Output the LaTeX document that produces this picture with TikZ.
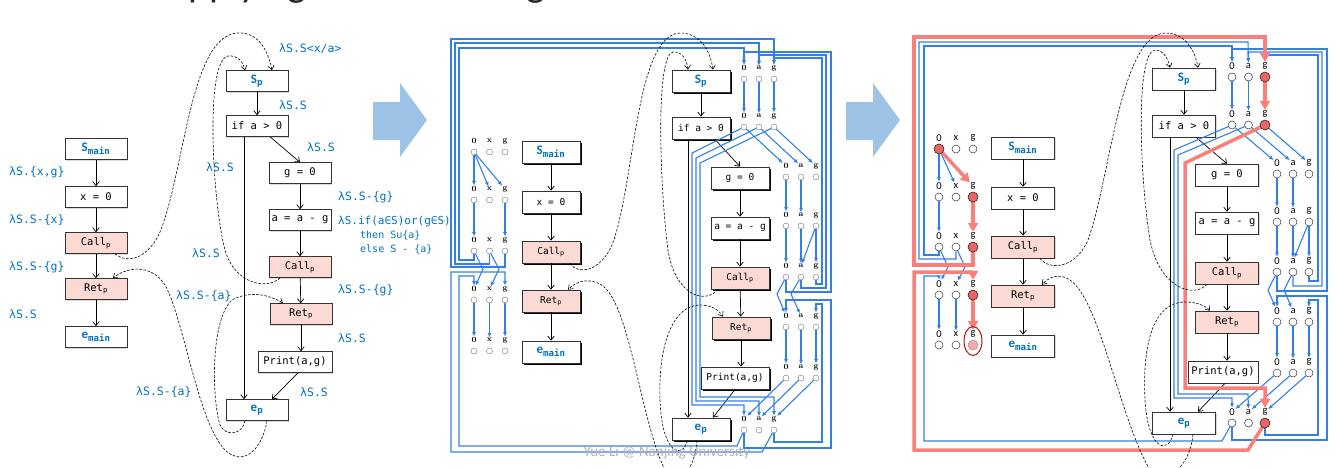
\documentclass[tikz,border=0pt]{standalone}
\usepackage{fontspec}
\setsansfont{Carlito}
\newfontfamily\cons{DejaVu Sans Mono}
\usetikzlibrary{arrows.meta,shadows,shapes.geometric}

\definecolor{lamblue}{RGB}{0,112,192}
\definecolor{callpink}{RGB}{252,218,212}
\definecolor{wireblue}{RGB}{50,128,230}
\definecolor{pathred}{RGB}{248,128,120}
\definecolor{hotred}{RGB}{238,100,100}
\definecolor{ringred}{RGB}{170,20,20}
\definecolor{arrowblue}{RGB}{157,195,230}

% entry / exit node text
\newcommand{\ent}[2]{{\color{lamblue}\sffamily\bfseries\fontsize{13}{13}\selectfont #1\textsubscript{\cons #2}}}
% one row of the exploded supergraph: name, x of 0, y, dx, variable, dot style, label style
\newcommand{\factrow}[7]{%
  \foreach \v [count=\i from 0] in {0,#5,g}{%
    \node[#6] (#1-\v) at ({#2+\i*#4},#3) {};
    \node[#7] (#1-\v-t) at ({#2+\i*#4},#3-11) {\v};
  }}

\tikzset{
  cfgbox/.style={draw=black!80, fill=white, inner sep=0pt, line width=.6pt},
  lbox/.style={cfgbox, minimum width=62pt, minimum height=21pt, font=\cons\fontsize{10.5}{10.5}\selectfont, drop shadow={shadow xshift=1.2pt, shadow yshift=-1.2pt, opacity=.3}},
  mbox/.style={cfgbox, line width=.8pt, minimum width=58pt, minimum height=22pt, font=\cons\fontsize{9.5}{9.5}\selectfont, drop shadow={shadow xshift=2.2pt, shadow yshift=-2.2pt, opacity=1, fill=black}},
  rbox/.style={cfgbox, minimum width=63pt, minimum height=22pt, font=\cons\fontsize{10.5}{10.5}\selectfont, drop shadow={shadow xshift=1.2pt, shadow yshift=-1.2pt, opacity=.3}},
  callp/.style={fill=callpink},
  flow/.style={line width=.7pt, -{Straight Barb[length=4pt,width=6.5pt]}},
  cfgdash/.style={line width=.6pt, dash pattern=on 2.5pt off 1.6pt, -{Straight Barb[length=4pt,width=6pt]}},
  lam/.style={text=lamblue, anchor=west, inner sep=0pt, font=\cons\fontsize{11.5}{12}\selectfont},
  mdot/.style={circle, draw=black!55, fill=white, line width=.4pt, minimum size=6pt, inner sep=0pt},
  rdot/.style={circle, draw=black!80, fill=white, line width=.5pt, minimum size=8pt, inner sep=0pt},
  mfact/.style={inner sep=.5pt, font=\bfseries\fontsize{8}{8}\selectfont},
  rfact/.style={inner sep=.5pt, font=\sffamily\fontsize{10.5}{10.5}\selectfont},
  wire/.style={draw=wireblue, line width=1.1pt, -{Latex[length=4.5pt,width=4pt]}},
  hotpath/.style={draw=pathred, line width=3.5pt, -{Triangle[length=9pt,width=10pt]}},
  hot/.style={circle, draw=black!85, fill=hotred, line width=.6pt, minimum size=10pt, inner sep=0pt},
}

\begin{document}
\begin{tikzpicture}[x=1pt,y=-1pt]
\useasboundingbox (0,0) rectangle (1336,467);

% slide title, mostly above the page
\node[anchor=base west, inner sep=0pt, text=black!85, font=\sffamily\fontsize{40}{40}\selectfont] (title) at (165,-4) {Applying Tabulation Algorithm};

%% ---------- left: supergraph with flow functions ----------
\node[lbox] (Lsm) at (96,149) {\ent{S}{main}};
\node[lbox] (Lx) at (96,197) {x = 0};
\node[lbox, callp] (Lcall) at (96,243) {Call\textsubscript{p}};
\node[lbox, callp] (Lret) at (96,289) {Ret\textsubscript{p}};
\node[lbox] (Lem) at (96,337) {\ent{e}{main}};

\node[lbox] (Lsp) at (257,81) {\ent{S}{p}};
\node[lbox] (Lif) at (257,126) {if a > 0};
\node[lbox] (Lg) at (300,173) {g = 0};
\node[lbox] (La) at (300,220) {a = a - g};
\node[lbox, callp] (Lcallp) at (300,267) {Call\textsubscript{p}};
\node[lbox, callp] (Lretp) at (301,314) {Ret\textsubscript{p}};
\node[lbox, minimum width=74pt] (Lprint) at (295,362) {Print(a,g)};
\node[lbox] (Lep) at (257,410) {\ent{e}{p}};

\draw[flow] (Lsm) -- (Lx);
\draw[flow] (Lx) -- (Lcall);
\draw[flow] (Lcall) -- (Lret);
\draw[flow] (Lret) -- (Lem);
\draw[flow] (Lsp) -- (Lif);
\draw[flow] ([xshift=13pt]Lif.south) -- (Lg.north);
\draw[flow] (Lg) -- (La);
\draw[flow] (La) -- (Lcallp);
\draw[flow] (Lcallp) -- (Lretp);
\draw[flow] (Lretp) -- ([xshift=6pt]Lprint.north);
\draw[flow] ([xshift=3pt]Lprint.south) -- ([xshift=15pt]Lep.north);
\draw[flow] ([xshift=-13pt]Lif.south) -- ([xshift=-13pt]Lep.north);

\draw[cfgdash] ([xshift=19pt]Lcall.south) .. controls (130,266) and (150,255) .. (160,232)
  .. controls (185,170) and (190,35) .. (238,33) .. controls (258,32) and (268,50) .. ([xshift=15pt]Lsp.north);
\draw[cfgdash] ([xshift=-20pt]Lcallp.south) .. controls (268,290) and (235,285) .. (225,250)
  .. controls (212,200) and (205,60) .. (228,56) .. controls (238,55) and (243,62) .. ([xshift=-12pt]Lsp.north);
\draw[cfgdash] ([xshift=10pt]Lep.south) .. controls (262,450) and (245,462) .. (232,455)
  .. controls (200,440) and (185,320) .. (165,285) .. controls (150,262) and (125,268) .. ([xshift=17pt]Lret.north);
\draw[cfgdash] ([xshift=-12pt]Lep.south) .. controls (242,436) and (225,436) .. (220,425)
  .. controls (212,400) and (210,320) .. (232,300) .. controls (250,290) and (270,295) .. ([xshift=-18pt]Lretp.north);

\node[lam] (lm1) at (9,172) {λS.\{x,g\}};
\node[lam] (lm2) at (9,220) {λS.S-\{x\}};
\node[lam] (lm3) at (9,267) {λS.S-\{g\}};
\node[lam] (lm4) at (9,314) {λS.S};
\node[lam] (lp1) at (279,49) {λS.S<x/a>};
\node[lam] (lp2) at (279,105) {λS.S};
\node[lam] (lp3) at (307,147) {λS.S};
\node[lam] (lp4) at (206,167) {λS.S};
\node[lam] (lp5) at (338,197) {λS.S-\{g\}};
\node[lam, font=\cons\fontsize{11}{11}\selectfont] (lp6) at (338,221) {λS.if(a∈S)or(g∈S)};
\node[lam, font=\cons\fontsize{10}{10}\selectfont] (lp7) at (360,236) {then S∪\{a\}};
\node[lam, font=\cons\fontsize{10}{10}\selectfont] (lp8) at (360,249) {else S - \{a\}};
\node[lam] (lp9) at (192,253) {λS.S};
\node[lam] (lp10) at (338,290) {λS.S-\{g\}};
\node[lam] (lp11) at (176,296) {λS.S-\{a\}};
\node[lam] (lp12) at (338,338) {λS.S};
\node[lam] (lp13) at (136,392) {λS.S-\{a\}};
\node[lam] (lp14) at (300,392) {λS.S};

%% big arrows
\fill[arrowblue] (373,102) -- (400,102) -- (400,83) -- (427,120) -- (400,157) -- (400,140) -- (373,140) -- cycle;
\fill[arrowblue] (846,102) -- (873,102) -- (873,83) -- (900,120) -- (873,157) -- (873,140) -- (846,140) -- cycle;

%% ---------- middle: exploded supergraph ----------
\node[mbox] (Msm) at (551,152) {\ent{S}{main}};
\node[mbox] (Mx) at (551,202) {x = 0};
\node[mbox, callp] (Mcall) at (551,252) {Call\textsubscript{p}};
\node[mbox, callp] (Mret) at (551,301) {Ret\textsubscript{p}};
\node[mbox] (Mem) at (551,352) {\ent{e}{main}};

\node[mbox] (Msp) at (701,81) {\ent{S}{p}};
\node[mbox] (Mif) at (701,128) {if a > 0};
\node[mbox] (Mg) at (740,178) {g = 0};
\node[mbox] (Ma) at (740,228) {a = a - g};
\node[mbox, callp] (Mcallp) at (740,278) {Call\textsubscript{p}};
\node[mbox, callp] (Mretp) at (741,328) {Ret\textsubscript{p}};
\node[mbox, minimum width=68pt] (Mprint) at (735,378) {Print(a,g)};
\node[mbox] (Mep) at (701,429) {\ent{e}{p}};

\draw[flow] (Msm) -- (Mx);
\draw[flow] (Mx) -- (Mcall);
\draw[flow] (Mcall) -- (Mret);
\draw[flow] (Mret) -- (Mem);
\draw[flow] (Msp) -- (Mif);
\draw[flow] ([xshift=14pt]Mif.south) -- (Mg.north);
\draw[flow] (Mg) -- (Ma);
\draw[flow] (Ma) -- (Mcallp);
\draw[flow] (Mcallp) -- (Mretp);
\draw[flow] (Mretp) -- ([xshift=6pt]Mprint.north);
\draw[flow] (Mprint.south) -- ([xshift=12pt]Mep.north);
\draw[flow] ([xshift=-13pt]Mif.south) -- ([xshift=-13pt]Mep.north);

\factrow{Mm1}{474}{152}{15.5}{x}{mdot}{mfact}
\factrow{Mm2}{474}{200}{15.5}{x}{mdot}{mfact}
\factrow{Mm3}{474}{251}{15.5}{x}{mdot}{mfact}
\factrow{Mm4}{474}{300}{15.5}{x}{mdot}{mfact}
\factrow{Mm5}{474}{351}{15.5}{x}{mdot}{mfact}
\factrow{Mp1}{744}{79}{15}{a}{mdot}{mfact}
\factrow{Mp2}{744}{127}{15}{a}{mdot}{mfact}
\factrow{Mp3}{786}{177}{15}{a}{mdot}{mfact}
\factrow{Mp4}{786}{226}{15}{a}{mdot}{mfact}
\factrow{Mp5}{786}{277}{15}{a}{mdot}{mfact}
\factrow{Mp6}{786}{327}{15}{a}{mdot}{mfact}
\factrow{Mp7}{786}{378}{15}{a}{mdot}{mfact}
\factrow{Mp8}{744}{430}{15}{a}{mdot}{mfact}

% main
\draw[wire] (Mm1-0) -- (Mm2-0-t);
\draw[wire] (Mm1-0) -- (Mm2-x-t);
\draw[wire] (Mm1-0) -- (Mm2-g-t);
\draw[wire] (Mm2-0) -- (Mm3-0-t);
\draw[wire] (Mm2-g) -- (Mm3-g-t);
\draw[wire] (Mm3-0) -- (483,269) -- (Mm4-0-t);
\draw[wire] (Mm3-x) -- (499,269) -- (Mm4-x-t);
\draw[wire] (Mm4-0) -- (Mm5-0-t);
\draw[wire] (Mm4-x) -- (Mm5-x-t);
\draw[wire] (Mm4-g) -- (Mm5-g-t);
% call and return edges
\draw[wire] (Mm3-0) |- (459,260) |- (744,48) -- (Mp1-0-t);
\draw[wire] (Mm3-x) |- (455,264) |- (759,43) -- (Mp1-a-t);
\draw[wire] (Mm3-g) |- (451,267) |- (774,39) -- (Mp1-g-t);
\draw[wire] (Mp8-0) -- (737,446) -| (459,276) -| (Mm4-0-t);
\draw[wire] (Mp8-g) -- (762,452) -| (451,272) -| (Mm4-g-t);
% p
\draw[wire] (Mp1-0) -- (Mp2-0-t);
\draw[wire] (Mp1-a) -- (Mp2-a-t);
\draw[wire] (Mp1-g) -- (Mp2-g-t);
\draw[wire] (Mp2-0) -- (Mp3-0-t);
\draw[wire] (Mp2-a) -- (Mp3-a-t);
\draw[wire] (Mp2-g) -- (Mp3-g-t);
\draw[wire] (Mp2-0) -- (692,153) |- (744,405) -- (Mp8-0-t);
\draw[wire] (Mp2-a) -- (696,158) |- (759,401) -- (Mp8-a-t);
\draw[wire] (Mp2-g) -- (700,163) |- (774,397) -- (Mp8-g-t);
\draw[wire] (Mp3-0) -- (Mp4-0-t);
\draw[wire] (Mp3-a) -- (Mp4-a-t);
\draw[wire] (Mp4-0) -- (Mp5-0-t);
\draw[wire] (Mp4-a) -- (Mp5-a-t);
\draw[wire] (Mp4-g) -- (Mp5-a-t);
\draw[wire] (Mp4-g) -- (Mp5-g-t);
\draw[wire] (Mp5-0) -- (777,294) -- (Mp6-0-t);
\draw[wire] (Mp5-a) -- (791,294) -- (Mp6-a-t);
\draw[wire] (Mp5-0) |- (831,292) |- (744,52) -- (Mp1-0-t);
\draw[wire] (Mp5-a) |- (826,288) |- (759,55) -- (Mp1-a-t);
\draw[wire] (Mp5-g) |- (822,284) |- (774,58) -- (Mp1-g-t);
\draw[wire] (Mp8-0) |- (831,448) |- (786,300) -- (Mp6-0-t);
\draw[wire] (Mp8-g) |- (822,442) |- (816,304) -- (Mp6-g-t);
\draw[wire] (Mp6-0) -- (Mp7-0-t);
\draw[wire] (Mp6-a) -- (Mp7-a-t);
\draw[wire] (Mp6-g) -- (Mp7-g-t);
\draw[wire] (Mp7-0) -- (Mp8-0-t);
\draw[wire] (Mp7-a) -- (Mp8-a-t);
\draw[wire] (Mp7-g) -- (Mp8-g-t);

\draw[cfgdash] ([xshift=19pt]Mcall.south) .. controls (578,275) and (600,272) .. (612,245)
  .. controls (635,185) and (635,35) .. (680,33) .. controls (700,33) and (710,50) .. ([xshift=12pt]Msp.north);
\draw[cfgdash] ([xshift=-22pt]Mcallp.south) .. controls (705,305) and (675,295) .. (668,250)
  .. controls (660,190) and (655,55) .. (673,52) .. controls (682,51) and (687,60) .. ([xshift=-13pt]Msp.north);
\draw[cfgdash] ([xshift=-4pt]Mep.south) .. controls (695,470) and (680,485) .. (665,470)
  .. controls (640,420) and (630,300) .. (600,284) .. controls (585,277) and (575,283) .. ([xshift=17pt]Mret.north);
\draw[cfgdash] ([xshift=-14pt]Mep.south) .. controls (683,460) and (662,455) .. (660,400)
  .. controls (658,340) and (675,305) .. (700,305) .. controls (710,305) and (718,309) .. ([xshift=-18pt]Mretp.north);

\node[text=black!30, font=\sffamily\fontsize{15}{15}\selectfont] (wm) at (667,453) {Yue Li @ Nanjing University};

%% ---------- right: a path found by tabulation ----------
\node[rbox] (Rsm) at (1023,148) {\ent{S}{main}};
\node[rbox] (Rx) at (1023,198) {x = 0};
\node[rbox, callp] (Rcall) at (1023,247) {Call\textsubscript{p}};
\node[rbox, callp] (Rret) at (1023,296) {Ret\textsubscript{p}};
\node[rbox] (Rem) at (1023,346) {\ent{e}{main}};

\node[rbox] (Rsp) at (1184,79) {\ent{S}{p}};
\node[rbox] (Rif) at (1184,126) {if a > 0};
\node[rbox] (Rg) at (1227,175) {g = 0};
\node[rbox] (Ra) at (1227,223) {a = a - g};
\node[rbox, callp] (Rcallp) at (1227,273) {Call\textsubscript{p}};
\node[rbox, callp] (Rretp) at (1227,322) {Ret\textsubscript{p}};
\node[rbox, minimum width=70pt] (Rprint) at (1223,372) {Print(a,g)};
\node[rbox] (Rep) at (1184,423) {\ent{e}{p}};

\draw[flow] (Rsm) -- (Rx);
\draw[flow] (Rx) -- (Rcall);
\draw[flow] (Rcall) -- (Rret);
\draw[flow] (Rret) -- (Rem);
\draw[flow] (Rsp) -- (Rif);
\draw[flow] ([xshift=12pt]Rif.south) -- (Rg.north);
\draw[flow] (Rg) -- (Ra);
\draw[flow] (Ra) -- (Rcallp);
\draw[flow] (Rcallp) -- (Rretp);
\draw[flow] (Rretp) -- ([xshift=4pt]Rprint.north);
\draw[flow] ([xshift=2pt]Rprint.south) -- ([xshift=14pt]Rep.north);
\draw[flow] ([xshift=-14pt]Rif.south) -- ([xshift=-14pt]Rep.north);

\factrow{Rm1}{939}{149}{17}{x}{rdot}{rfact}
\factrow{Rm2}{939}{197}{17}{x}{rdot}{rfact}
\factrow{Rm3}{939}{247}{17}{x}{rdot}{rfact}
\factrow{Rm4}{939}{295}{17}{x}{rdot}{rfact}
\factrow{Rm5}{939}{345}{17}{x}{rdot}{rfact}
\factrow{Rp1}{1232}{77}{16.5}{a}{rdot}{rfact}
\factrow{Rp2}{1232}{125}{16.5}{a}{rdot}{rfact}
\factrow{Rp3}{1277}{174}{16}{a}{rdot}{rfact}
\factrow{Rp4}{1277}{222}{16}{a}{rdot}{rfact}
\factrow{Rp5}{1277}{272}{16}{a}{rdot}{rfact}
\factrow{Rp6}{1277}{322}{16}{a}{rdot}{rfact}
\factrow{Rp7}{1277}{373}{16}{a}{rdot}{rfact}
\factrow{Rp8}{1232}{423}{16.5}{a}{rdot}{rfact}

% main
\draw[wire] (Rm1-0) -- (Rm2-0-t);
\draw[wire] (Rm1-0) -- (Rm2-x-t);
\draw[wire] (Rm2-0) -- (Rm3-0-t);
\draw[wire] (Rm3-0) -- (948,267) -- (Rm4-0-t);
\draw[wire] (Rm3-x) -- (965,267) -- (Rm4-x-t);
\draw[wire] (Rm4-0) -- (Rm5-0-t);
\draw[wire] (Rm4-x) -- (Rm5-x-t);
\draw[wire] (Rm3-0) |- (924,255) |- (1232,46) -- (Rp1-0-t);
\draw[wire] (Rm3-x) |- (919,259) |- (1248,42) -- (Rp1-a-t);
\draw[wire] (Rp8-0) -- (1222,441) -| (924,276) -| (Rm4-0-t);
% p
\draw[wire] (Rp1-0) -- (Rp2-0-t);
\draw[wire] (Rp1-a) -- (Rp2-a-t);
\draw[wire] (Rp2-0) -- (Rp3-0-t);
\draw[wire] (Rp2-a) -- (Rp3-a-t);
\draw[wire] (Rp2-g) -- (Rp3-g-t);
\draw[wire] (Rp2-0) -- (1174,150) |- (1232,398) -- (Rp8-0-t);
\draw[wire] (Rp2-a) -- (1178,155) |- (1248,394) -- (Rp8-a-t);
\draw[wire] (Rp3-0) -- (Rp4-0-t);
\draw[wire] (Rp3-a) -- (Rp4-a-t);
\draw[wire] (Rp4-0) -- (Rp5-0-t);
\draw[wire] (Rp4-a) -- (Rp5-a-t);
\draw[wire] (Rp4-g) -- (Rp5-a-t);
\draw[wire] (Rp4-g) -- (Rp5-g-t);
\draw[wire] (Rp5-0) -- (1268,290) -- (Rp6-0-t);
\draw[wire] (Rp5-a) -- (1284,290) -- (Rp6-a-t);
\draw[wire] (Rp5-0) |- (1327,291) |- (1232,49) -- (Rp1-0-t);
\draw[wire] (Rp5-a) |- (1322,286) |- (1248,52) -- (Rp1-a-t);
\draw[wire] (Rp5-g) |- (1318,281) |- (1265,55) -- (Rp1-g-t);
\draw[wire] (Rp8-0) |- (1327,440) |- (1277,296) -- (Rp6-0-t);
\draw[wire] (Rp8-g) |- (1318,435) |- (1309,300) -- (Rp6-g-t);
\draw[wire] (Rp6-0) -- (Rp7-0-t);
\draw[wire] (Rp6-a) -- (Rp7-a-t);
\draw[wire] (Rp6-g) -- (Rp7-g-t);
\draw[wire] (Rp7-0) -- (Rp8-0-t);
\draw[wire] (Rp7-a) -- (Rp8-a-t);
\draw[wire] (Rp7-g) -- (Rp8-g-t);

% the highlighted path
\draw[hotpath] (Rm1-0) -- (Rm2-g-t);
\draw[hotpath] (Rm2-g) -- (Rm3-g-t);
\draw[hotpath] (Rm3-g) |- (914,265) |- (1265,37) -- (Rp1-g-t);
\draw[hotpath] (Rp1-g) -- (Rp2-g-t);
\draw[hotpath] (Rp2-g) -- (1185,163) |- (1265,388) -- (Rp8-g-t);
\draw[hotpath] (Rp8-g) -- (1248,450) -| (914,272) -| (Rm4-g-t);
\draw[hotpath] (Rm4-g) -- (Rm5-g-t);
\node[hot] at (Rm1-0) {};
\node[hot] at (Rm2-g) {};
\node[hot] at (Rm3-g) {};
\node[hot] at (Rm4-g) {};
\node[hot] at (Rp1-g) {};
\node[hot] at (Rp2-g) {};
\node[hot] at (Rp8-g) {};
\node[hot, fill=hotred!55, draw=black!40] at (Rm5-g) {};
\node[ellipse, draw=ringred, line width=1pt, minimum width=18pt, minimum height=29pt] (ring) at (973,341) {};

\draw[cfgdash] ([xshift=17pt]Rcall.south) .. controls (1048,270) and (1075,270) .. (1088,240)
  .. controls (1110,180) and (1120,35) .. (1165,33) .. controls (1185,33) and (1195,50) .. ([xshift=14pt]Rsp.north);
\draw[cfgdash] ([xshift=-20pt]Rcallp.south) .. controls (1195,298) and (1160,290) .. (1150,240)
  .. controls (1140,180) and (1135,52) .. (1155,50) .. controls (1163,50) and (1168,58) .. ([xshift=-14pt]Rsp.north);
\draw[cfgdash] ([xshift=9pt]Rep.south) .. controls (1190,465) and (1170,485) .. (1150,470)
  .. controls (1120,420) and (1100,300) .. (1070,280) .. controls (1058,272) and (1048,278) .. ([xshift=19pt]Rret.north);
\draw[cfgdash] ([xshift=-11pt]Rep.south) .. controls (1168,455) and (1148,450) .. (1145,400)
  .. controls (1142,340) and (1155,302) .. (1185,302) .. controls (1195,302) and (1205,305) .. ([xshift=-17pt]Rretp.north);

\end{tikzpicture}
\end{document}
